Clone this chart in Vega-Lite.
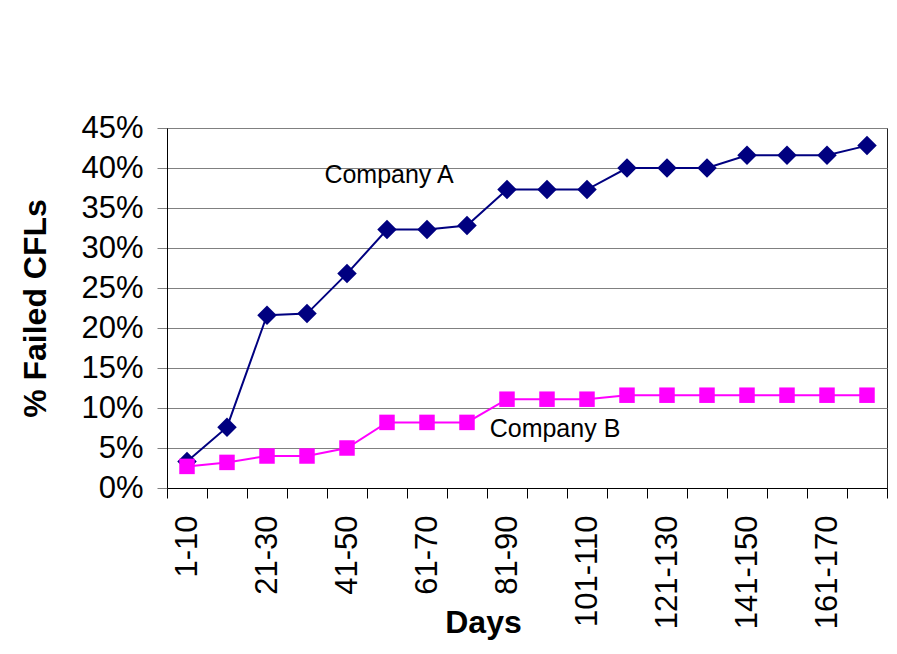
{
  "$schema": "https://vega.github.io/schema/vega-lite/v6.json",
  "autosize": "none",
  "width": 720,
  "height": 360,
  "padding": {"left": 167, "top": 128, "right": 10, "bottom": 166},
  "background": "white",
  "config": {
    "font": "Liberation Sans",
    "view": {"stroke": "#222222", "strokeWidth": 1}
  },
  "datasets": {
    "series": [
      {"days": "1-10", "company": "Company A", "pct": 0.033},
      {"days": "11-20", "company": "Company A", "pct": 0.076},
      {"days": "21-30", "company": "Company A", "pct": 0.216},
      {"days": "31-40", "company": "Company A", "pct": 0.218},
      {"days": "41-50", "company": "Company A", "pct": 0.268},
      {"days": "51-60", "company": "Company A", "pct": 0.323},
      {"days": "61-70", "company": "Company A", "pct": 0.323},
      {"days": "71-80", "company": "Company A", "pct": 0.328},
      {"days": "81-90", "company": "Company A", "pct": 0.373},
      {"days": "91-100", "company": "Company A", "pct": 0.373},
      {"days": "101-110", "company": "Company A", "pct": 0.373},
      {"days": "111-120", "company": "Company A", "pct": 0.400},
      {"days": "121-130", "company": "Company A", "pct": 0.400},
      {"days": "131-140", "company": "Company A", "pct": 0.400},
      {"days": "141-150", "company": "Company A", "pct": 0.416},
      {"days": "151-160", "company": "Company A", "pct": 0.416},
      {"days": "161-170", "company": "Company A", "pct": 0.416},
      {"days": "171-180", "company": "Company A", "pct": 0.428},
      {"days": "1-10", "company": "Company B", "pct": 0.027},
      {"days": "11-20", "company": "Company B", "pct": 0.032},
      {"days": "21-30", "company": "Company B", "pct": 0.040},
      {"days": "31-40", "company": "Company B", "pct": 0.040},
      {"days": "41-50", "company": "Company B", "pct": 0.050},
      {"days": "51-60", "company": "Company B", "pct": 0.082},
      {"days": "61-70", "company": "Company B", "pct": 0.082},
      {"days": "71-80", "company": "Company B", "pct": 0.082},
      {"days": "81-90", "company": "Company B", "pct": 0.111},
      {"days": "91-100", "company": "Company B", "pct": 0.111},
      {"days": "101-110", "company": "Company B", "pct": 0.111},
      {"days": "111-120", "company": "Company B", "pct": 0.116},
      {"days": "121-130", "company": "Company B", "pct": 0.116},
      {"days": "131-140", "company": "Company B", "pct": 0.116},
      {"days": "141-150", "company": "Company B", "pct": 0.116},
      {"days": "151-160", "company": "Company B", "pct": 0.116},
      {"days": "161-170", "company": "Company B", "pct": 0.116},
      {"days": "171-180", "company": "Company B", "pct": 0.116}
    ],
    "labels": [
      {"days": "51-60", "pct": 0.381, "text": "Company A"},
      {"days": "91-100", "pct": 0.064, "text": "Company B"}
    ]
  },
  "encoding": {
    "x": {
      "field": "days",
      "type": "ordinal",
      "sort": null,
      "scale": {"type": "band", "paddingInner": 0, "paddingOuter": 0,
        "domain": ["1-10","11-20","21-30","31-40","41-50","51-60","61-70","71-80","81-90","91-100","101-110","111-120","121-130","131-140","141-150","151-160","161-170","171-180"]},
      "axis": {
        "title": "Days",
        "titleFontSize": 32,
        "titleFontWeight": "bold",
        "titleColor": "black",
        "titleX": 316,
        "titleY": 144,
        "titleBaseline": "alphabetic",
        "titleAlign": "center",
        "labelAngle": -90,
        "labelFontSize": 31,
        "labelColor": "black",
        "labelPadding": 17,
        "labelExpr": "indexof(['1-10','21-30','41-50','61-70','81-90','101-110','121-130','141-150','161-170'], datum.value) >= 0 ? datum.label : ''",
        "labelOverlap": false,
        "tickBand": "extent",
        "tickSize": 10,
        "tickColor": "black",
        "domainColor": "black",
        "grid": false
      }
    },
    "y": {
      "field": "pct",
      "type": "quantitative",
      "scale": {"domain": [0, 0.45], "nice": false},
      "axis": {
        "title": "% Failed CFLs",
        "titleFontSize": 32,
        "titleFontWeight": "bold",
        "titleColor": "black",
        "titleX": -132,
        "titleY": 180,
        "titleBaseline": "middle",
        "titleAlign": "center",
        "values": [0, 0.05, 0.1, 0.15, 0.2, 0.25, 0.3, 0.35, 0.4, 0.45],
        "format": ".0%",
        "labelFontSize": 31,
        "labelColor": "black",
        "labelPadding": 14,
        "tickSize": 10,
        "tickColor": "#808080",
        "domainColor": "black",
        "grid": true,
        "gridColor": "#808080",
        "gridWidth": 1,
        "gridOpacity": 1
      }
    }
  },
  "layer": [
    {
      "data": {"name": "series"},
      "mark": {"type": "line", "strokeWidth": 2},
      "encoding": {
        "color": {"field": "company", "type": "nominal",
          "scale": {"domain": ["Company A", "Company B"], "range": ["#000080", "#FF00FF"]},
          "legend": null}
      }
    },
    {
      "data": {"name": "series"},
      "mark": {"type": "point", "filled": true, "opacity": 1},
      "encoding": {
        "color": {"field": "company", "type": "nominal",
          "scale": {"domain": ["Company A", "Company B"], "range": ["#000080", "#FF00FF"]},
          "legend": null},
        "shape": {"field": "company", "type": "nominal",
          "scale": {"domain": ["Company A", "Company B"], "range": ["diamond", "square"]},
          "legend": null},
        "size": {"field": "company", "type": "nominal",
          "scale": {"domain": ["Company A", "Company B"], "range": [380, 240]},
          "legend": null}
      }
    },
    {
      "data": {"name": "labels"},
      "transform": [{"filter": "datum.text == 'Company A'"}],
      "mark": {"type": "text", "fontSize": 25, "color": "black", "align": "center", "baseline": "alphabetic", "dx": 2},
      "encoding": {
        "text": {"field": "text"}
      }
    },
    {
      "data": {"name": "labels"},
      "transform": [{"filter": "datum.text == 'Company B'"}],
      "mark": {"type": "text", "fontSize": 25, "color": "black", "align": "center", "baseline": "alphabetic", "dx": 8},
      "encoding": {
        "text": {"field": "text"}
      }
    }
  ]
}
